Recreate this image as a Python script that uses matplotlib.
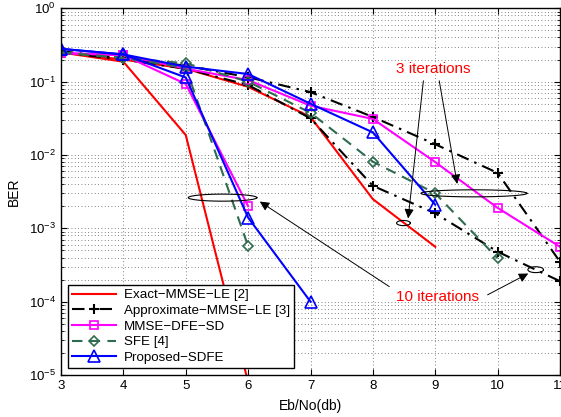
import numpy as np
import matplotlib
matplotlib.use("Agg")
import matplotlib.pyplot as plt

plt.rcParams["font.family"] = ["Liberation Sans", "DejaVu Sans"]
plt.rcParams["mathtext.fontset"] = "custom"
plt.rcParams["mathtext.rm"] = "Liberation Sans"

# ---- data (BER vs Eb/No) ----
# "10 iterations" curves are the steep ones, "3 iterations" the slow ones
exact_10_x = [3, 4, 5, 6]
exact_10_y = [0.25, 0.187, 0.0187, 8e-6]
exact_3_x = [3, 4, 5, 6, 7, 8, 9]
exact_3_y = [0.25, 0.20, 0.15, 0.085, 0.033, 0.0025, 0.00056]

approx_3_x = [3, 4, 5, 6, 7, 8, 9, 10, 11]
approx_3_y = [0.26, 0.21, 0.165, 0.115, 0.072, 0.033, 0.014, 0.0057, 0.00035]
approx_10_x = [3, 4, 5, 6, 7, 8, 9, 10, 11]
approx_10_y = [0.25, 0.20, 0.15, 0.09, 0.0316, 0.0038, 0.0016, 0.00048, 0.00019]

dfe_10_x = [3, 4, 5, 6]
dfe_10_y = [0.245, 0.23, 0.093, 0.002]
dfe_3_x = [3, 4, 5, 6, 7, 8, 9, 10, 11]
dfe_3_y = [0.245, 0.23, 0.15, 0.105, 0.047, 0.031, 0.008, 0.0019, 0.00056]

sfe_10_x = [3, 4, 5, 6]
sfe_10_y = [0.25, 0.21, 0.155, 0.00057]
sfe_3_x = [3, 4, 5, 6, 7, 8, 9, 10]
sfe_3_y = [0.25, 0.21, 0.178, 0.10, 0.0376, 0.0081, 0.003, 0.00039]

sdfe_10_x = [3, 4, 5, 6, 7]
sdfe_10_y = [0.28, 0.235, 0.114, 0.0014, 0.0001]
sdfe_3_x = [3, 4, 5, 6, 7, 8, 9]
sdfe_3_y = [0.28, 0.235, 0.16, 0.127, 0.05, 0.0203, 0.0021]

labels = ["Exact\u2212MMSE\u2212LE [2]", "Approximate\u2212MMSE\u2212LE [3]",
          "MMSE\u2212DFE\u2212SD", "SFE [4]", "Proposed\u2212SDFE"]
x_ticks = [3, 4, 5, 6, 7, 8, 9, 10, 11]

GREEN = "#2f6b4f"

fig = plt.figure(figsize=(5.61, 4.17), dpi=100)
ax = fig.add_axes([61 / 561, 42 / 417, 499 / 561, 366.7 / 417])
ax.set_yscale("log")

lw = 1.5
styles = [
    dict(color="red", ls="-", marker=None),
    dict(color="black", ls=(0, (6, 3, 1.2, 3)), marker="+", ms=7, mew=1.5),
    dict(color="magenta", ls="-", marker="s", ms=6, mfc="none", mew=1.2),
    dict(color=GREEN, ls=(0, (5, 3.5)), marker="D", ms=5.5, mfc="none", mew=1.2),
    dict(color="blue", ls="-", marker="^", ms=8, mfc="none", mew=1.2),
]
series = [
    [(exact_10_x, exact_10_y), (exact_3_x, exact_3_y)],
    [(approx_3_x, approx_3_y), (approx_10_x, approx_10_y)],
    [(dfe_10_x, dfe_10_y), (dfe_3_x, dfe_3_y)],
    [(sfe_10_x, sfe_10_y), (sfe_3_x, sfe_3_y)],
    [(sdfe_10_x, sdfe_10_y), (sdfe_3_x, sdfe_3_y)],
]
handles = []
for st, label, pair in zip(styles, labels, series):
    for i, (xs, ys) in enumerate(pair):
        h, = ax.plot(xs, ys, lw=lw, label=label if i == 0 else None, **st)
        if i == 0:
            handles.append(h)

ax.set_xlim(3, 11)
ax.set_ylim(1e-5, 1)
ax.set_xticks(x_ticks)
ax.set_xticklabels([str(t) for t in x_ticks])
ax.set_yticks([10.0 ** k for k in range(-5, 1)])
ax.set_yticklabels([r"$10^{%d}$" % k for k in range(-5, 1)])
ax.tick_params(which="both", direction="in", top=True, right=True, labelsize=9.5)
ax.tick_params(which="major", length=4)
ax.tick_params(which="minor", length=2)
grid_kw = dict(ls=(0, (1, 3)), color="0.35", lw=0.6)
ax.grid(True, which="major", **grid_kw)
ax.grid(True, which="minor", axis="y", **grid_kw)
for sp in ax.spines.values():
    sp.set_linewidth(1.0)

ax.set_xlabel("Eb/No(db)", fontsize=10, labelpad=5)
ax.set_ylabel("BER", fontsize=10, labelpad=6)

leg = ax.legend(handles=handles, loc="lower left", bbox_to_anchor=(0.014, 0.019),
                borderaxespad=0, fontsize=9.6, handlelength=3.3, labelspacing=0.25,
                fancybox=False, framealpha=1, edgecolor="black", borderpad=0.3,
                handletextpad=0.6)
leg.get_frame().set_linewidth(1.0)


def ellipse(cx, cy, half_w, half_dec):
    t = np.linspace(0, 2 * np.pi, 100)
    ax.plot(cx + half_w * np.cos(t), cy * 10 ** (half_dec * np.sin(t)),
            color="black", lw=0.8)


arrow = dict(arrowstyle="-|>", color="black", lw=0.7, mutation_scale=14)

ax.text(8.96, 0.148, "3 iterations", color="red", fontsize=11,
        ha="center", va="center")
ax.annotate("", xy=(8.56, 0.00125), xytext=(8.815, 0.112), arrowprops=arrow)
ax.annotate("", xy=(9.36, 0.0037), xytext=(9.056, 0.112), arrowprops=arrow)
ellipse(8.49, 0.00118, 0.11, 0.035)
ellipse(9.62, 0.0030, 0.85, 0.048)

ax.text(9.04, 0.000115, "10 iterations", color="red", fontsize=11,
        ha="center", va="center")
ax.annotate("", xy=(6.15, 0.00243), xytext=(8.30, 0.000153), arrowprops=arrow)
ax.annotate("", xy=(10.53, 0.000252), xytext=(9.80, 0.000119), arrowprops=arrow)
ellipse(5.59, 0.00262, 0.55, 0.048)
ellipse(10.61, 0.000273, 0.125, 0.04)

fig.savefig("out.png", dpi=100)
